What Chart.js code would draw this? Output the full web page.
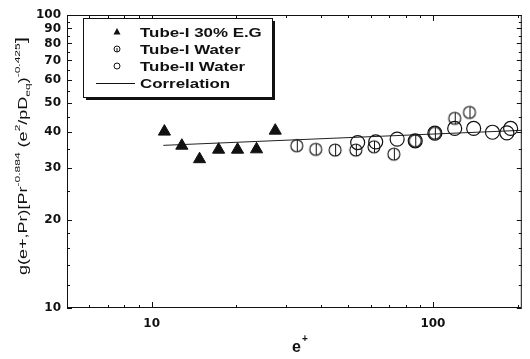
<!DOCTYPE html>
<html>
<head>
<meta charset="utf-8">
<script src="https://cdn.jsdelivr.net/npm/chart.js@4.4.1/dist/chart.umd.min.js"></script>
<style>
  html, body { margin: 0; padding: 0; background: #fff; }
  canvas { display: block; }
</style>
</head>
<body>
<canvas id="chart" width="530" height="359"></canvas>
<script>
const egX = [11.1, 12.8, 14.8, 17.3, 20.2, 23.6, 27.5];
const egY = [40.0, 35.8, 32.2, 34.7, 34.7, 34.8, 40.3];
const t1X = [32.8, 38.3, 44.9, 53.2, 61.7, 72.6, 86.5, 101.6, 119.5, 134.9];
const t1Y = [35.8, 34.8, 34.6, 34.6, 35.5, 33.5, 37.2, 39.5, 44.4, 46.5];
const t2X = [54.0, 62.6, 74.6, 86.5, 101.6, 119.5, 139.6, 162.8, 183.2, 188.9];
const t2Y = [36.7, 36.9, 37.7, 37.2, 39.5, 41.0, 41.0, 39.8, 39.6, 41.0];
const corrX = [11.0, 207];
const corrY = [35.9, 40.4];
const seriesNames = ['Tube-I 30% E.G', 'Tube-I Water', 'Tube-II Water', 'Correlation'];
const xTicks = [10, 100];
const yTicks = [10, 20, 30, 40, 50, 60, 70, 80, 90, 100];
const xMinor = [6, 7, 8, 9, 20, 30, 40, 50, 60, 70, 80, 90, 200];
const yMinor = [12, 14, 16, 18, 25, 35, 45, 55, 65, 75, 85, 95];

const ink = '#111';

function toPoints(xs, ys) {
  return xs.map((x, i) => ({ x: x, y: ys[i] }));
}

// circle with a vertical bar through it (Tube-I water)
function phiMarker(r) {
  const s = Math.ceil(r * 2 + 4);
  const c = document.createElement('canvas');
  c.width = s; c.height = s;
  const g = c.getContext('2d');
  g.strokeStyle = ink;
  g.lineWidth = 1.1;
  g.beginPath(); g.arc(s / 2, s / 2, r, 0, Math.PI * 2); g.stroke();
  g.lineWidth = 1;
  g.beginPath(); g.moveTo(s / 2 + 0.5, s / 2 - r); g.lineTo(s / 2 + 0.5, s / 2 + r); g.stroke();
  return c;
}

const frame = {
  id: 'frame',
  afterDraw(chart) {
    const ctx = chart.ctx;
    const a = chart.chartArea;
    const xs = chart.scales.x, ys = chart.scales.y;
    ctx.save();
    ctx.strokeStyle = ink;
    ctx.lineWidth = 1;
    ctx.strokeRect(a.left + 0.5, a.top + 0.5, a.right - a.left - 1, a.bottom - a.top - 1);

    // inward ticks on all four sides
    ctx.beginPath();
    const tickX = (v, len) => {
      const p = Math.round(xs.getPixelForValue(v)) + 0.5;
      ctx.moveTo(p, a.bottom); ctx.lineTo(p, a.bottom - len);
      ctx.moveTo(p, a.top); ctx.lineTo(p, a.top + len);
    };
    const tickY = (v, len) => {
      const p = Math.round(ys.getPixelForValue(v)) + 0.5;
      ctx.moveTo(a.left, p); ctx.lineTo(a.left + len, p);
      ctx.moveTo(a.right, p); ctx.lineTo(a.right - len, p);
    };
    xTicks.forEach(v => tickX(v, 6));
    xMinor.forEach(v => tickX(v, 3));
    yTicks.forEach(v => tickY(v, 5));
    yMinor.forEach(v => tickY(v, 3));
    ctx.stroke();

    // legend box
    const bx = 83, by = 18, bw = 189, bh = 79;
    ctx.fillStyle = ink;
    ctx.fillRect(bx + 3, by + 3, bw, bh);
    ctx.fillStyle = '#fff';
    ctx.fillRect(bx, by, bw, bh);
    ctx.strokeRect(bx + 0.5, by + 0.5, bw, bh);

    const rows = [32, 49, 66, 83];
    const mx = 117;
    ctx.fillStyle = ink;
    ctx.beginPath();
    ctx.moveTo(mx, rows[0] - 4); ctx.lineTo(mx + 3.5, rows[0] + 2.5); ctx.lineTo(mx - 3.5, rows[0] + 2.5);
    ctx.closePath(); ctx.fill();
    ctx.lineWidth = 1;
    ctx.beginPath(); ctx.arc(mx, rows[1], 3, 0, Math.PI * 2); ctx.stroke();
    ctx.beginPath(); ctx.moveTo(mx, rows[1] - 1); ctx.lineTo(mx, rows[1] + 3); ctx.stroke();
    ctx.beginPath(); ctx.arc(mx, rows[2], 3, 0, Math.PI * 2); ctx.stroke();
    ctx.beginPath(); ctx.moveTo(96, rows[3] + 0.5); ctx.lineTo(135, rows[3] + 0.5); ctx.stroke();

    ctx.font = 'bold 13px "Liberation Sans", Arial, sans-serif';
    ctx.textBaseline = 'middle';
    ctx.textAlign = 'left';
    seriesNames.forEach((name, i) => {
      ctx.save();
      ctx.translate(140, rows[i] + 1);
      ctx.scale(1.3, 1);
      ctx.fillText(name, 0, 0);
      ctx.restore();
    });

    // x axis title: e+
    ctx.textBaseline = 'alphabetic';
    ctx.font = 'bold 16px "Liberation Sans", Arial, sans-serif';
    ctx.fillText('e', 292, 352);
    ctx.font = 'bold 10px "Liberation Sans", Arial, sans-serif';
    ctx.fillText('+', 302, 342);

    // y axis title, rotated, with super/subscripts
    const parts = [
      ['g(e+,Pr)[Pr', 'n'], ['-0.884', 'sup'], [' (e', 'n'], ['2', 'sup'],
      ['/pD', 'n'], ['eq', 'sub'], [')', 'n'], ['-0.425', 'sup'], [']', 'big']
    ];
    const fonts = {
      n: '12px "Liberation Sans", Arial, sans-serif',
      sup: '8px "Liberation Sans", Arial, sans-serif',
      sub: '8px "Liberation Sans", Arial, sans-serif',
      big: '15px "Liberation Sans", Arial, sans-serif'
    };
    const shift = { n: 0, sup: -7, sub: 3, big: -1 };
    let total = 0;
    parts.forEach(p => { ctx.font = fonts[p[1]]; total += ctx.measureText(p[0]).width; });
    ctx.translate(27, 156);
    ctx.rotate(-Math.PI / 2);
    ctx.scale(1.5, 1);
    let cx = -total / 2;
    parts.forEach(p => {
      ctx.font = fonts[p[1]];
      ctx.fillText(p[0], cx, shift[p[1]]);
      cx += ctx.measureText(p[0]).width;
    });
    ctx.restore();
  }
};

const tickFont = { family: '"DejaVu Sans", sans-serif', weight: 'bold', size: 12 };

new Chart(document.getElementById('chart').getContext('2d'), {
  type: 'scatter',
  data: {
    datasets: [
      {
        label: seriesNames[0],
        data: toPoints(egX, egY),
        pointStyle: 'triangle',
        pointRadius: 7,
        backgroundColor: ink,
        borderColor: ink,
        borderWidth: 1
      },
      {
        label: seriesNames[1],
        data: toPoints(t1X, t1Y),
        pointStyle: phiMarker(6),
        pointRadius: 7
      },
      {
        label: seriesNames[2],
        data: toPoints(t2X, t2Y),
        pointStyle: 'circle',
        pointRadius: 7,
        backgroundColor: 'rgba(0,0,0,0)',
        borderColor: ink,
        borderWidth: 1.2
      },
      {
        label: seriesNames[3],
        type: 'line',
        data: toPoints(corrX, corrY),
        showLine: true,
        pointRadius: 0,
        borderColor: '#222',
        borderWidth: 1,
        fill: false
      }
    ]
  },
  options: {
    responsive: false,
    animation: false,
    devicePixelRatio: 1,
    layout: { padding: { top: 15, right: 2, left: 0, bottom: 0 } },
    plugins: {
      legend: { display: false },
      tooltip: { enabled: false }
    },
    scales: {
      x: {
        type: 'logarithmic',
        min: 5,
        max: 207,
        grid: { display: false, drawTicks: false },
        border: { display: false },
        afterBuildTicks: s => { s.ticks = xTicks.map(v => ({ value: v })); },
        afterFit: s => { s.height = 51; },
        ticks: {
          padding: 9,
          autoSkip: false,
          maxRotation: 0,
          color: ink,
          font: tickFont,
          callback: v => String(v)
        }
      },
      y: {
        type: 'logarithmic',
        min: 10,
        max: 100,
        grid: { display: false, drawTicks: false },
        border: { display: false },
        afterBuildTicks: s => { s.ticks = yTicks.map(v => ({ value: v })); },
        afterFit: s => { s.width = 67; },
        ticks: {
          padding: 6,
          autoSkip: false,
          color: ink,
          font: tickFont,
          callback: v => String(v)
        }
      }
    }
  },
  plugins: [frame]
});
</script>
</body>
</html>
